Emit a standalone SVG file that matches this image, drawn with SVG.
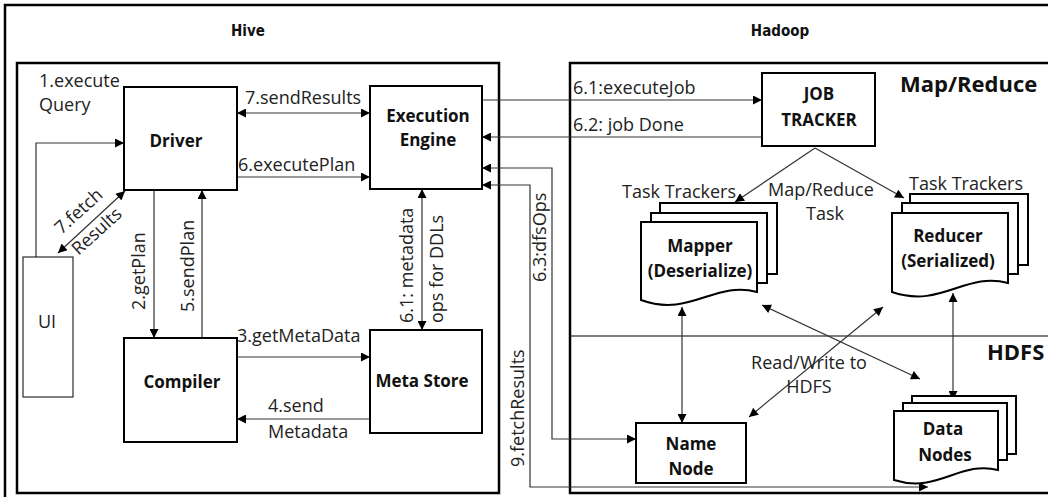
<svg xmlns="http://www.w3.org/2000/svg" width="1048" height="497" viewBox="0 0 1048 497">
<defs>
<marker id="ah" viewBox="0 0 10 10" refX="10" refY="5" markerWidth="10" markerHeight="9" markerUnits="userSpaceOnUse" orient="auto-start-reverse"><path d="M0,0 L10,5 L0,10 z" fill="#000"/></marker>
<style>
.frame{fill:none;stroke:#000;stroke-width:2.5}
.box{fill:#fff;stroke:#000;stroke-width:2}
.thinbox{fill:#fff;stroke:#000;stroke-width:1}
.ce{fill:none;stroke:#333;stroke-width:1.2;marker-end:url(#ah)}
.cb{fill:none;stroke:#333;stroke-width:1.2;marker-start:url(#ah);marker-end:url(#ah)}
.lbl{font-family:"Open Sans","Liberation Sans",sans-serif;font-size:18px;fill:#222}
.mid{text-anchor:middle}
.nt{font-family:"Open Sans","Liberation Sans",sans-serif;font-size:17px;font-weight:bold;fill:#111;text-anchor:middle}
.big{font-family:"Open Sans","Liberation Sans",sans-serif;font-size:22px;font-weight:bold;fill:#111}
.ttl{font-family:"DejaVu Sans Condensed","DejaVu Sans",sans-serif;font-size:15px;font-weight:bold;fill:#111;text-anchor:middle}
.pg{fill:#fff;stroke:#000;stroke-width:2}
</style>
</defs>
<rect width="1048" height="497" fill="#fff"/>

<g id="frames">
<rect class="frame" x="5" y="5" width="1060" height="500"/>
<rect class="frame" x="17" y="63" width="482" height="430"/>
<rect class="frame" x="570" y="63" width="500" height="430"/>
<line x1="570" y1="336" x2="1048" y2="336" stroke="#000" stroke-width="1.2"/>
<text class="ttl" x="248" y="36">Hive</text>
<text class="ttl" x="780" y="36">Hadoop</text>
<text class="big" x="900" y="92">Map/Reduce</text>
<text class="big" x="987" y="360">HDFS</text>
</g>

<g id="connectors">
<path class="cb" d="M237,113 H370"/>
<path class="ce" d="M237,177 H370"/>
<path class="ce" d="M36,257 V143 H124"/>
<path class="cb" d="M125,191 L58,253"/>
<path class="ce" d="M154,190 V338"/>
<path class="ce" d="M202,338 V190"/>
<path class="ce" d="M237,357 H370"/>
<path class="ce" d="M370,419 H237"/>
<path class="cb" d="M422,189 V330"/>
<path class="ce" d="M482,100 H762"/>
<path class="ce" d="M762,137 H482"/>
<path class="cb" d="M482,168 H552 V439 H636"/>
<path class="cb" d="M482,185 H530 V487 H928"/>
<path class="ce" d="M815,148 L735,202"/>
<path class="ce" d="M815,148 L904,198"/>
<path class="cb" d="M682,307 V423"/>
<path class="cb" d="M953,293 V400"/>
<path class="cb" d="M762,305 L920,379"/>
<path class="cb" d="M749,417 L883,307"/>

<text class="lbl" x="39" y="87">1.execute</text>
<text class="lbl" x="39" y="111">Query</text>
<text class="lbl" x="245" y="104">7.sendResults</text>
<text class="lbl" x="238" y="171">6.executePlan</text>
<g transform="translate(91.5,222.5) rotate(-42.3)">
<text class="lbl mid" x="-2" y="-11">7.fetch</text>
<text class="lbl mid" x="-2" y="16">Results</text>
</g>
<text class="lbl" transform="translate(145,310) rotate(-90)">2.getPlan</text>
<text class="lbl" transform="translate(194,312) rotate(-90)">5.sendPlan</text>
<text class="lbl" x="237" y="342">3.getMetaData</text>
<text class="lbl" x="268" y="412">4.send</text>
<text class="lbl" x="268" y="438">Metadata</text>
<text class="lbl" transform="translate(413,323) rotate(-90)">6.1: metadata</text>
<text class="lbl" transform="translate(443,323) rotate(-90)">ops for DDLs</text>
<text class="lbl" x="573" y="94">6.1:executeJob</text>
<text class="lbl" x="573" y="131">6.2: job Done</text>
<text class="lbl" transform="translate(546,282) rotate(-90)">6.3:dfsOps</text>
<text class="lbl" transform="translate(524,467) rotate(-90)">9.fetchResults</text>
<text class="lbl" x="768" y="196">Map/Reduce</text>
<text class="lbl" x="806" y="220">Task</text>
<text class="lbl" x="622" y="198">Task Trackers</text>
<text class="lbl" x="909" y="190">Task Trackers</text>
<text class="lbl mid" x="809" y="369">Read/Write to</text>
<text class="lbl mid" x="809" y="393">HDFS</text>
</g>

<g id="ui">
<rect class="thinbox" x="23" y="257" width="50" height="140"/>
<text class="lbl mid" x="47" y="328">UI</text>
</g>
<g id="driver">
<rect class="box" x="124" y="87" width="113" height="103"/>
<text class="nt" x="176" y="147">Driver</text>
</g>
<g id="compiler">
<rect class="box" x="124" y="338" width="113" height="104"/>
<text class="nt" x="182" y="388">Compiler</text>
</g>
<g id="execution-engine">
<rect class="box" x="370" y="86" width="112" height="103"/>
<text class="nt" x="428" y="122">Execution</text>
<text class="nt" x="428" y="146">Engine</text>
</g>
<g id="meta-store">
<rect class="box" x="370" y="330" width="112" height="103"/>
<text class="nt" x="422" y="387">Meta Store</text>
</g>
<g id="job-tracker">
<rect class="box" x="762" y="73" width="113" height="73"/>
<text class="nt" x="819" y="100">JOB</text>
<text class="nt" x="819" y="126">TRACKER</text>
</g>
<g id="mapper">
<path class="pg" d="M660,213 V203 H777 V274 H767"/>
<path class="pg" d="M651,222 V213 H767 V283 H757"/>
<path class="pg" d="M641,222 H757 V292 C715,280 690,318 641,300 Z"/>
<text class="nt" x="700" y="252">Mapper</text>
<text class="nt" x="700" y="277">(Deserialize)</text>
</g>
<g id="reducer">
<path class="pg" d="M910,203 V194 H1028 V265 H1018"/>
<path class="pg" d="M902,213 V203 H1018 V274 H1008"/>
<path class="pg" d="M892,213 H1008 V283 C966,271 941,309 892,292 Z"/>
<text class="nt" x="948" y="242">Reducer</text>
<text class="nt" x="948" y="267">(Serialized)</text>
</g>
<g id="name-node">
<rect class="box" x="636" y="423" width="110" height="60"/>
<text class="nt" x="691" y="450">Name</text>
<text class="nt" x="691" y="475">Node</text>
</g>
<g id="data-nodes">
<path class="pg" d="M912,403 V396 H1016 V454 H1007"/>
<path class="pg" d="M903,411 V403 H1007 V460 H998"/>
<path class="pg" d="M894,411 H998 V470 C960,460 938,494 894,480 Z"/>
<text class="nt" x="943" y="435">Data</text>
<text class="nt" x="945" y="461">Nodes</text>
</g>
</svg>
